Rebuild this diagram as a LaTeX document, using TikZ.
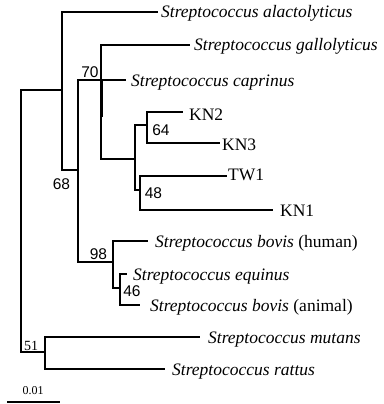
\documentclass[tikz,border=0pt]{standalone}
\usepackage{fontspec}
\setmainfont{Liberation Serif}
\newfontfamily\numfont{Liberation Sans}
\begin{document}
\begin{tikzpicture}[x=1pt,y=-1pt,
  branch/.style={line width=1.6pt, line join=miter},
  thickbranch/.style={line width=3pt},
  sp/.style={anchor=base west, inner sep=0pt, font=\fontsize{17.5}{20}\selectfont\itshape},
  strain/.style={anchor=base west, inner sep=0pt, font=\fontsize{17.5}{20}\selectfont},
  boot/.style={inner sep=0pt, font=\numfont\fontsize{15.5}{18}\selectfont},
  bootserif/.style={inner sep=0pt, font=\fontsize{14}{16}\selectfont},
  scalelabel/.style={inner sep=0pt, font=\fontsize{12}{14}\selectfont}]
\useasboundingbox (0,0) rectangle (383,404);
% internal nodes
\coordinate (root) at (21,200);
\coordinate (A) at (62,90);
\coordinate (B) at (78,170);
\coordinate (C) at (101,80);
\coordinate (Cthick) at (101,117);
\coordinate (E) at (135,159);
\coordinate (F) at (147,125);
\coordinate (G) at (140,190);
\coordinate (D) at (113,262);
\coordinate (H) at (120,288);
\coordinate (M) at (45,352);
% leaves
\coordinate (alac) at (158,12);
\coordinate (gallo) at (190,45);
\coordinate (capr) at (126,80);
\coordinate (kn2) at (183,112);
\coordinate (kn3) at (220,143);
\coordinate (tw1) at (227,176);
\coordinate (kn1) at (273,210);
\coordinate (bovh) at (148,241);
\coordinate (equi) at (127,274);
\coordinate (bova) at (140,305);
\coordinate (mut) at (200,337);
\coordinate (rat) at (165,369);
% branches
\draw[branch] (root) |- (A);
\draw[branch] (root) |- (M);
\draw[branch] (A) |- (alac);
\draw[branch] (A) |- (B);
\draw[branch] (B) |- (C);
\draw[branch] (B) |- (D);
\draw[branch] (C) |- (gallo);
\draw[branch] (C) |- (capr);
\draw[branch] (C) |- (E);
\draw[thickbranch] (C) -- (Cthick);
\draw[branch] (E) |- (F);
\draw[branch] (E) |- (G);
\draw[branch] (F) |- (kn2);
\draw[branch] (F) |- (kn3);
\draw[branch] (G) |- (tw1);
\draw[branch] (G) |- (kn1);
\draw[branch] (D) |- (bovh);
\draw[branch] (D) |- (H);
\draw[branch] (H) |- (equi);
\draw[branch] (H) |- (bova);
\draw[branch] (M) |- (mut);
\draw[branch] (M) |- (rat);
% bootstrap values
\node[boot] (b70) at (90,72) {70};
\node[boot] (b68) at (61.5,184) {68};
\node[boot] (b64) at (161,130.5) {64};
\node[boot] (b48) at (153.5,193) {48};
\node[boot] (b98) at (98.5,254) {98};
\node[boot] (b46) at (132,291) {46};
\node[bootserif] (b51) at (31,346) {51};
% leaf labels
\node[sp] (talac) at (161,18) {Streptococcus alactolyticus};
\node[sp] (tgallo) at (194,51) {Streptococcus gallolyticus};
\node[sp] (tcapr) at (131,86) {Streptococcus caprinus};
\node[strain] (tkn2) at (189,120) {KN2};
\node[strain] (tkn3) at (222,150) {KN3};
\node[strain] (ttw1) at (228,180) {TW1};
\node[strain] (tkn1) at (280,216) {KN1};
\node[sp] (tbovh) at (155,247) {Streptococcus bovis \upshape(human)};
\node[sp] (tequi) at (133,280) {Streptococcus equinus};
\node[sp] (tbova) at (150,311) {Streptococcus bovis \upshape(animal)};
\node[sp] (tmut) at (208,343) {Streptococcus mutans};
\node[sp] (trat) at (172,375) {Streptococcus rattus};
% scale bar
\coordinate (s0) at (7,402);
\coordinate (s1) at (60,402);
\draw[branch] (s0) -- (s1);
\node[scalelabel] (tscale) at (33,391) {0.01};
\end{tikzpicture}
\end{document}
